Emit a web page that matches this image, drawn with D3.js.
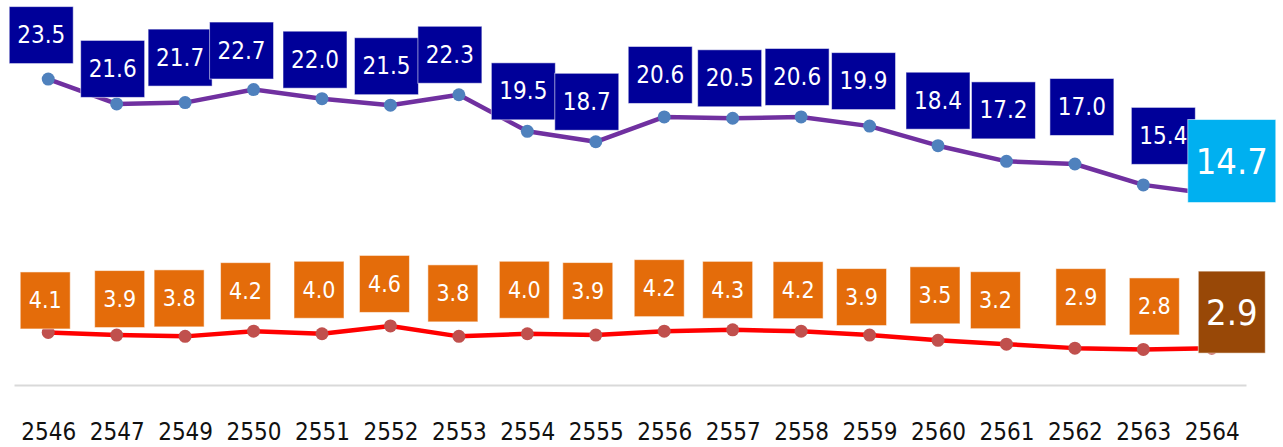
<!DOCTYPE html>
<html>
<head>
<meta charset="utf-8">
<script src="https://cdn.jsdelivr.net/npm/d3@7/dist/d3.min.js"></script>
<style>
  html, body { margin: 0; padding: 0; background: #fff; }
  svg { display: block; }
  text { font-family: "DejaVu Sans Condensed", "DejaVu Sans", sans-serif; font-stretch: condensed; }
</style>
</head>
<body>
<svg id="chart" width="1283" height="447"></svg>
<script>
// ---- data ----
const years = ["2546","2547","2549","2550","2551","2552","2553","2554","2555","2556","2557","2558","2559","2560","2561","2562","2563","2564"];
const upperValues = [23.5,21.6,21.7,22.7,22.0,21.5,22.3,19.5,18.7,20.6,20.5,20.6,19.9,18.4,17.2,17.0,15.4,14.7];
const lowerValues = [4.1,3.9,3.8,4.2,4.0,4.6,3.8,4.0,3.9,4.2,4.3,4.2,3.9,3.5,3.2,2.9,2.8,2.9];

// ---- layout: label nudges (box centre relative to its point, px) ----
const upperNudge = [[-7,-44],[-4,-35],[-5,-45],[-12,-39],[-7,-39],[-4,-39],[-9,-40],[-4,-40],[-9,-40],[-4,-42],[-3,-40],[-4,-40],[-6,-45],[0,-45],[-3,-51],[7,-57],[20,-49],[20,-33]];
const lowerNudge = [[-3,-32],[3,-36],[-6,-38],[-8,-40],[-3,-44],[-6,-42],[-6,-43],[-3,-44],[-8,-44],[-5,-43],[-5,-40],[-3,-41],[-8,-38],[-3,-45],[-11,-44],[6,-51],[11,-43],[20,-36]];

const svg = d3.select("#chart");
const x = d3.scalePoint().domain(years).range([14, 1246]).padding(0.5);
const y = d3.scaleLinear().domain([0, 25]).range([386, 59.5]);

// axis
const axisG = svg.append("g").attr("transform", "translate(0,385)")
  .call(d3.axisBottom(x).tickSize(0).tickSizeOuter(0));
axisG.select(".domain").attr("stroke", "#D9D9D9").attr("stroke-width", 2);
axisG.selectAll(".tick text")
  .attr("y", 55).attr("dy", 0)
  .attr("fill", "#111")
  .style("font-size", "24px")
  .style("font-family", '"DejaVu Sans Condensed", "DejaVu Sans", sans-serif');

const series = [
  { values: upperValues, nudge: upperNudge, line: "#7030A0", marker: "#4F81BD", box: "#000099", lastBox: "#00B0F0", w: 64, h: 57, lw: 88, lh: 83, fs: 24 },
  { values: lowerValues, nudge: lowerNudge, line: "#FF0000", marker: "#C0504D", box: "#E46C0A", lastBox: "#984807", w: 50, h: 57, lw: 67, lh: 82, fs: 23 }
];

const lineGen = d3.line().x((d, i) => x(years[i])).y(d => y(d));

series.forEach(s => {
  svg.append("path").datum(s.values)
    .attr("d", lineGen)
    .attr("fill", "none")
    .attr("stroke", s.line)
    .attr("stroke-width", 4.5)
    .attr("stroke-linejoin", "round");
  svg.append("g").selectAll("circle").data(s.values).join("circle")
    .attr("cx", (d, i) => x(years[i]))
    .attr("cy", d => y(d))
    .attr("r", 6.5)
    .attr("fill", s.marker);
});

series.forEach(s => {
  const n = s.values.length;
  const g = svg.append("g").selectAll("g").data(s.values).join("g")
    .attr("transform", (d, i) => `translate(${x(years[i]) + s.nudge[i][0]},${y(d) + s.nudge[i][1]})`);
  g.append("rect")
    .attr("x", (d, i) => -(i === n - 1 ? s.lw : s.w) / 2)
    .attr("y", (d, i) => -(i === n - 1 ? s.lh : s.h) / 2)
    .attr("width", (d, i) => i === n - 1 ? s.lw : s.w)
    .attr("height", (d, i) => i === n - 1 ? s.lh : s.h)
    .attr("fill", (d, i) => i === n - 1 ? s.lastBox : s.box)
    .attr("stroke", "rgba(255,255,255,0.55)")
    .attr("stroke-width", 1);
  g.append("text")
    .attr("text-anchor", "middle")
    .attr("dominant-baseline", "central")
    .attr("fill", "#fff")
    .style("font-size", (d, i) => (i === n - 1 ? 36 : s.fs) + "px")
    .text(d => d.toFixed(1));
});
</script>
</body>
</html>
